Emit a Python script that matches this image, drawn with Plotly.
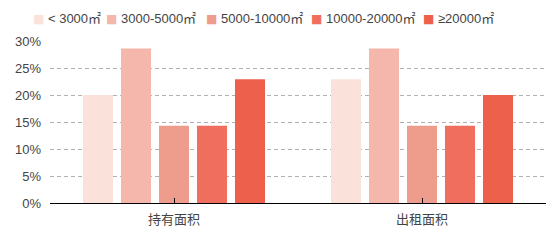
import plotly.graph_objects as go

categories = ["持有面积", "出租面积"]
series_names = ["< 3000㎡", "3000-5000㎡", "5000-10000㎡", "10000-20000㎡", "≥20000㎡"]
series_values = [
    [20.0, 22.9],
    [28.6, 28.6],
    [14.3, 14.3],
    [14.3, 14.3],
    [22.9, 20.0],
]
colors = ["#fae2db", "#f5b6ac", "#ee9c8c", "#ef6e5d", "#ec604c"]
y_ticks = [0, 5, 10, 15, 20, 25, 30]
y_tick_labels = ["0%", "5%", "10%", "15%", "20%", "25%", "30%"]

FONT = "Liberation Sans, Noto Sans CJK SC, sans-serif"
W, H = 554, 241
legend_marker_x = [37, 110, 210, 315, 427]

fig = go.Figure()
for name, vals, c in zip(series_names, series_values, colors):
    fig.add_trace(go.Bar(x=categories, y=vals, name=name,
                         marker=dict(color=c, line=dict(width=0)), hoverinfo="skip"))

# legend drawn as text entries with a coloured square swatch
annotations = []
for name, c, mx in zip(series_names, colors, legend_marker_x):
    annotations.append(dict(
        xref="paper", yref="paper",
        x=(mx - 6 - 50) / (W - 58), xanchor="left",
        y=1 + (41 - 18) / (H - 79), yanchor="middle",
        text=f"<span style='color:{c};font-family:DejaVu Sans;font-size:12px'>■</span> {name}",
        showarrow=False, font=dict(size=13, color="#444", family=FONT),
    ))

fig.update_layout(
    width=W, height=H,
    margin=dict(l=50, r=8, t=41, b=38, autoexpand=False),
    paper_bgcolor="white", plot_bgcolor="white",
    barmode="group", bargap=0.234, bargroupgap=0.21,
    font=dict(family=FONT, size=13, color="#444"),
    showlegend=False,
    annotations=annotations,
    xaxis=dict(showline=True, linecolor="#000", linewidth=1.3, ticks="inside", ticklen=5,
               tickcolor="#000", tickmode="array", tickvals=categories, ticklabelmode="period",
               ticklabelstandoff=4,
               showgrid=False, tickfont=dict(size=13, color="#444"), fixedrange=True),
    yaxis=dict(range=[0, 30], tickvals=y_ticks, ticktext=y_tick_labels, showline=False,
               showgrid=True, gridcolor="#b0b0b0", griddash="4px,3px", gridwidth=1,
               zeroline=False, ticks="", ticklabelstandoff=8,
               tickfont=dict(size=13, color="#444"), fixedrange=True),
)
fig.write_html("out.html")
